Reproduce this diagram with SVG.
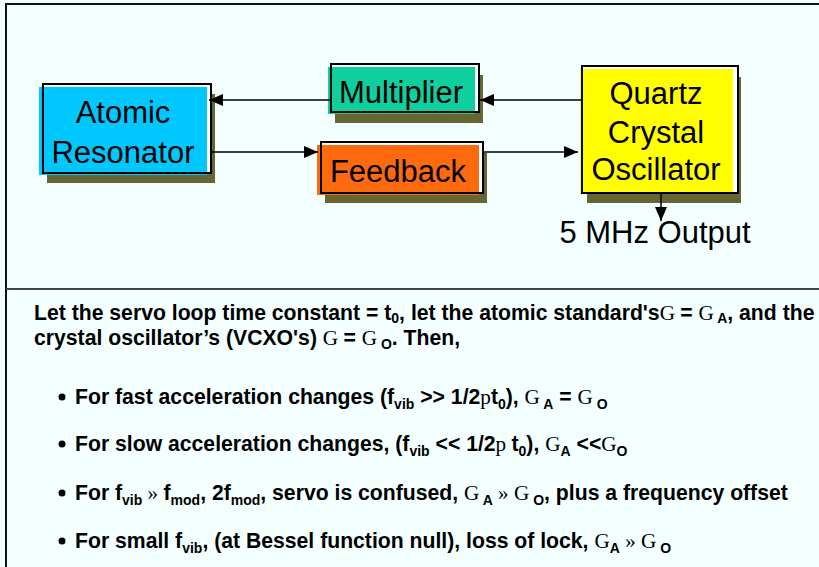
<svg xmlns="http://www.w3.org/2000/svg" width="819" height="567" viewBox="0 0 819 567">
<defs>
<marker id="ah" viewBox="0 0 14 12" refX="14" refY="6" markerWidth="14" markerHeight="12" markerUnits="userSpaceOnUse" orient="auto">
<path d="M0,0 L14,6 L0,12 Z" fill="#000"/>
</marker>
</defs>
<style>
.shadow{fill:#666633}
.outline{fill:#ffffff;stroke:#000;stroke-width:2}
.lbl{font-family:"Liberation Sans",Arial,sans-serif;font-size:31px;fill:#000;text-anchor:middle}
.conn{stroke:#000;stroke-width:1.5;fill:none;marker-end:url(#ah)}
.body{font-family:"Liberation Sans",Arial,sans-serif;font-size:21.2px;font-weight:bold;fill:#000}
.s{font-family:"Liberation Serif","Times New Roman",serif;font-weight:normal}
.sub{font-size:14px}
</style>
<rect x="0" y="0" width="819" height="567" fill="#F4FFFF"/>
<g id="frame">
<rect x="6" y="4" width="830" height="285" fill="none" stroke="#111" stroke-width="2"/>
<line x1="6" y1="289" x2="6" y2="567" stroke="#111" stroke-width="2"/>
<line x1="6" y1="289" x2="819" y2="289" stroke="#444" stroke-width="2"/>
</g>
<g id="atomic">
<rect class="shadow" x="47" y="94" width="168" height="89"/>
<rect class="outline" x="43" y="84" width="168" height="89"/>
<rect x="39" y="87" width="168" height="88" fill="#00C8FF"/>
<rect x="43" y="84" width="168" height="89" fill="none" stroke="#000" stroke-width="2"/>
<text class="lbl" x="123" y="123">Atomic</text>
<text class="lbl" x="123" y="163">Resonator</text>
</g>
<g id="multiplier">
<rect class="shadow" x="335" y="75" width="148" height="48"/>
<rect class="outline" x="331" y="64" width="148" height="48"/>
<rect x="328" y="67" width="147" height="47" fill="#0FCF9F"/>
<rect x="331" y="64" width="148" height="48" fill="none" stroke="#000" stroke-width="2"/>
<text class="lbl" x="401" y="103">Multiplier</text>
</g>
<g id="feedback">
<rect class="shadow" x="325" y="153" width="162" height="50"/>
<rect class="outline" x="321" y="142" width="162" height="51"/>
<rect x="317" y="145" width="162" height="50" fill="#FF6A0E"/>
<rect x="321" y="142" width="162" height="51" fill="none" stroke="#000" stroke-width="2"/>
<text class="lbl" x="398" y="182">Feedback</text>
</g>
<g id="quartz">
<rect class="shadow" x="587" y="77" width="154" height="126"/>
<rect class="outline" x="582" y="66" width="156" height="127"/>
<rect x="580" y="69" width="153" height="125" fill="#FFFF00"/>
<rect x="582" y="66" width="156" height="127" fill="none" stroke="#000" stroke-width="2"/>
<text class="lbl" x="656" y="104">Quartz</text>
<text class="lbl" x="656" y="143">Crystal</text>
<text class="lbl" x="656" y="180">Oscillator</text>
</g>
<g id="connectors">
<line class="conn" x1="582" y1="100" x2="480" y2="100"/>
<line class="conn" x1="331" y1="100" x2="209" y2="100"/>
<line class="conn" x1="211" y1="152" x2="318" y2="152"/>
<line class="conn" x1="483" y1="152" x2="578" y2="152"/>
<line class="conn" x1="661" y1="193" x2="661" y2="221"/>
</g>
<g id="output-label">
<text class="lbl" x="655" y="243">5 MHz Output</text>
</g>
<g id="notes">
<text class="body" x="34" y="320">Let the servo loop time constant = t<tspan class="sub" dy="3">0</tspan><tspan dy="-3">, let the atomic standard's</tspan><tspan class="s">G </tspan>= <tspan class="s">G</tspan><tspan class="sub" dy="3"> A</tspan><tspan dy="-3">, and the</tspan></text>
<text class="body" x="34" y="345">crystal oscillator’s (VCXO's) <tspan class="s">G </tspan>= <tspan class="s">G</tspan><tspan class="sub" dy="4"> O</tspan><tspan dy="-4">.  Then,</tspan></text>
<circle cx="62" cy="397" r="3.5"/>
<text class="body" x="75" y="404">For fast acceleration changes (f<tspan class="sub" dy="5">vib</tspan><tspan dy="-5"> &gt;&gt; 1/2</tspan><tspan class="s">p</tspan>t<tspan class="sub" dy="5">0</tspan><tspan dy="-5">), </tspan><tspan class="s">G</tspan><tspan class="sub" dy="5"> A</tspan><tspan dy="-5"> = </tspan><tspan class="s">G</tspan><tspan class="sub" dy="5"> O</tspan></text>
<circle cx="62" cy="444" r="3.5"/>
<text class="body" x="75" y="451">For slow acceleration changes, (f<tspan class="sub" dy="5">vib</tspan><tspan dy="-5"> &lt;&lt; 1/2</tspan><tspan class="s">p </tspan>t<tspan class="sub" dy="5">0</tspan><tspan dy="-5">), </tspan><tspan class="s">G</tspan><tspan class="sub" dy="5">A</tspan><tspan dy="-5"> &lt;&lt;</tspan><tspan class="s">G</tspan><tspan class="sub" dy="5">O</tspan></text>
<circle cx="62" cy="493" r="3.5"/>
<text class="body" x="75" y="500">For f<tspan class="sub" dy="5">vib</tspan><tspan dy="-5" class="s"> » </tspan>f<tspan class="sub" dy="5">mod</tspan><tspan dy="-5">, 2f</tspan><tspan class="sub" dy="5">mod</tspan><tspan dy="-5">, servo is confused, </tspan><tspan class="s">G</tspan><tspan class="sub" dy="5"> A</tspan><tspan dy="-5" class="s"> » G</tspan><tspan class="sub" dy="5"> O</tspan><tspan dy="-5">, plus a frequency offset</tspan></text>
<circle cx="62" cy="541" r="3.5"/>
<text class="body" x="75" y="548">For small f<tspan class="sub" dy="5">vib</tspan><tspan dy="-5">,  (at Bessel function null), loss of lock, </tspan><tspan class="s">G</tspan><tspan class="sub" dy="5">A</tspan><tspan dy="-5" class="s"> » G</tspan><tspan class="sub" dy="5"> O</tspan></text>
</g>
</svg>
